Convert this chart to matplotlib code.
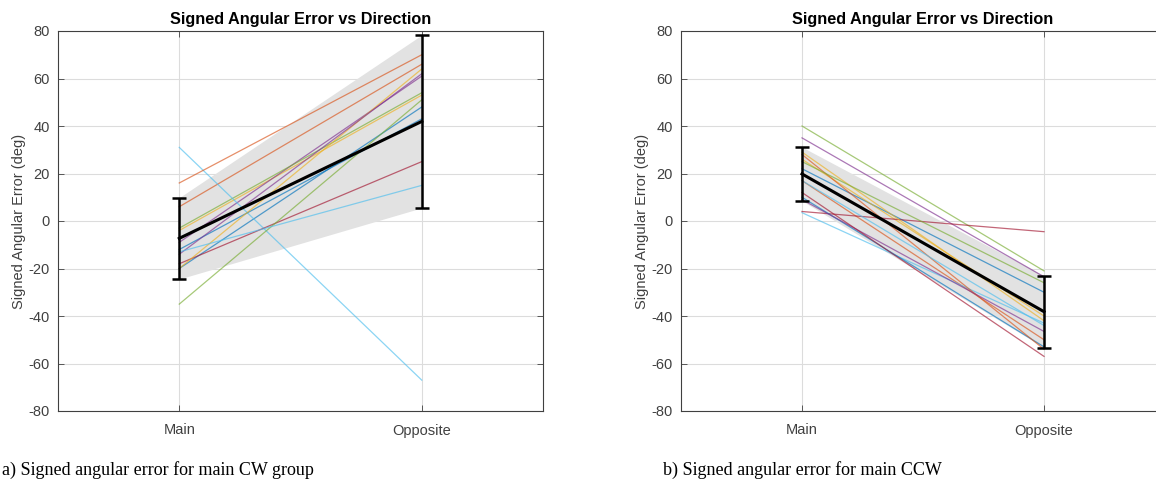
import numpy as np
import matplotlib
matplotlib.use("Agg")
import matplotlib.pyplot as plt

plt.rcParams['font.family'] = ['Liberation Sans', 'DejaVu Sans']
plt.rcParams['axes.unicode_minus'] = False

# Per-subject signed angular error (deg): [Main, Opposite]
conditions = ["Main", "Opposite"]

cw_main = [-20, 6, -4, -9, -3, 31, -18, -12, 16, -20, -14, -35, -13]
cw_opposite = [48, 66, 53, 61, 54, -67, 25, 43, 70, 64, 62, 51, 15]

ccw_main = [22, 17, 26, 35, 40, 3.5, 4, 10, 28, 29, 9, 25, 17, 12]
ccw_opposite = [-30, -50, -40, -23.5, -21, -43, -4.5, -53, -54, -42, -46.5, -26, -44, -57]

captions = ["a) Signed angular error for main CW group",
            "b) Signed angular error for main CCW"]

# MATLAB default line colour order
matlab_colors = ["#0072BD", "#D95319", "#EDB120", "#7E2F8E",
                 "#77AC30", "#4DBEEE", "#A2142F"]

W, H = 1156, 491
fig = plt.figure(figsize=(W / 100, H / 100), dpi=100)


def draw_panel(ax, main_vals, opp_vals):
    x = np.arange(1, len(conditions) + 1)
    data = np.array([main_vals, opp_vals])
    mean = data.mean(axis=1)
    sd = data.std(axis=1, ddof=1)

    ax.fill_between(x, mean - sd, mean + sd, color="#e2e2e2", lw=0, zorder=1)
    for i in range(data.shape[1]):
        ax.plot(x, data[:, i], color=matlab_colors[i % 7], lw=0.9,
                alpha=0.65, zorder=2)
    ax.plot(x, mean, color="black", lw=2.2, zorder=3)
    ax.errorbar(x, mean, yerr=sd, fmt="none", ecolor="black", elinewidth=1.8,
                capsize=5, capthick=1.8, zorder=4)

    ax.set_xlim(0.5, 2.5)
    ax.set_ylim(-80, 80)
    ax.set_xticks(x)
    ax.set_xticklabels(conditions)
    ax.set_yticks(np.arange(-80, 81, 20))
    ax.grid(True, color="#dcdcdc", lw=0.8)
    ax.set_axisbelow(True)
    ax.tick_params(direction="in", length=4, width=0.6, colors="#404040",
                   labelsize=10.5, top=True, right=True, pad=6)
    ax.tick_params(axis="x", pad=9)
    for s in ax.spines.values():
        s.set_color("#404040")
        s.set_linewidth(0.8)
    ax.set_title("Signed Angular Error vs Direction", fontsize=11.7,
                 fontweight="bold", pad=5)
    ax.set_ylabel("Signed Angular Error (deg)", fontsize=10.5,
                  color="#404040", labelpad=2)


ax1 = fig.add_axes([58 / W, 1 - 411 / H, 485 / W, 380 / H])
draw_panel(ax1, cw_main, cw_opposite)

ax2 = fig.add_axes([681 / W, 1 - 411 / H, 484 / W, 380 / H])
draw_panel(ax2, ccw_main, ccw_opposite)

fig.text(2 / W, 1 - 470 / H, captions[0], fontsize=13, va="center",
         family=["Liberation Serif", "DejaVu Serif"])
fig.text(663 / W, 1 - 470 / H, captions[1], fontsize=13, va="center",
         family=["Liberation Serif", "DejaVu Serif"])

fig.savefig("out.png", dpi=100)
